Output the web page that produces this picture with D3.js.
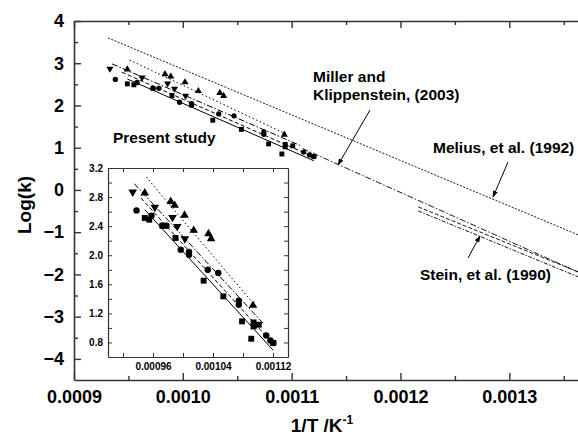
<!DOCTYPE html>
<html><head><meta charset="utf-8">
<script src="https://cdn.jsdelivr.net/npm/d3@7"></script>
<style>body{margin:0;background:#fff}svg{display:block}text{font-family:"Liberation Sans",Arial,sans-serif;font-weight:bold}</style>
</head><body>
<svg id="c" width="578" height="439"></svg>
<script>
// ---- data ----
const upTri = [[0.000949,2.856],[0.0009836,2.74],[0.0009889,2.686],[0.001002,2.549],[0.0010143,2.342],[0.001034,2.296],[0.0010375,2.227],[0.0010933,1.31]];
const downTri = [[0.000933,2.87],[0.0009625,2.659],[0.000986,2.521],[0.0009924,2.397],[0.0010025,2.227]];
const circles = [[0.000938,2.617],[0.000958,2.544],[0.0009726,2.406],[0.000978,2.406],[0.000997,2.076],[0.001008,2.044],[0.001008,2.007],[0.001033,1.80],[0.001047,1.755],[0.0010744,1.374],[0.0010744,1.319],[0.001111,0.897],[0.0011165,0.828],[0.0011204,0.792]];
const squares = [[0.000949,2.512],[0.000955,2.489],[0.0009726,2.406],[0.00099,2.237],[0.0010275,1.65],[0.0010538,1.434],[0.0010788,1.09],[0.001091,0.851],[0.0010941,1.076],[0.0010941,1.021],[0.001101,1.044],[0.0011204,0.792]];
const fitUp = [[0.000951,3.076],[0.0010933,1.342]];
const fitDown = [[0.000935,2.984],[0.0011086,1.044]];
const fitCircle = [[0.000944,2.787],[0.0011152,0.838]];
const fitSquare = [[0.000949,2.627],[0.0011204,0.691]];
const miller = [[0.00111,0.981],[0.00137,-2.023]];
const melius = [[0.0009313,3.598],[0.00137,-1.137]];
const steinA = [[0.0012163,-0.402],[0.00137,-2.01]];
const steinB = [[0.0012163,-0.497],[0.00137,-2.129]];
const xMajor = [0.0009,0.0010,0.0011,0.0012,0.0013];
const yMajor = [-4,-3,-2,-1,0,1,2,3,4];
const insetXMajor = [0.00096,0.00104,0.00112];
const insetYMajor = [0.8,1.2,1.6,2.0,2.4,2.8,3.2];

const svg = d3.select("#c");
const L=74, R=585.5, T=21, B=380;
const x = d3.scaleLinear().domain([0.0009,0.00137]).range([L,R]);
const y = d3.scaleLinear().domain([-4.5,4]).range([B,T]);
const axisCol = "#333";

svg.append("defs").append("clipPath").attr("id","clipMain").append("rect").attr("x",L).attr("y",T).attr("width",R-L).attr("height",B-T);
svg.select("defs").append("marker").attr("id","arr").attr("viewBox","0 0 10 10").attr("refX",9).attr("refY",5)
  .attr("markerWidth",7).attr("markerHeight",7).attr("orient","auto")
  .append("path").attr("d","M0,1.5 L10,5 L0,8.5 Z").attr("fill","#000");

const main = svg.append("g").attr("clip-path","url(#clipMain)");
const line = (xs,ys)=>d3.line().x(d=>xs(d[0])).y(d=>ys(d[1]));

function drawSet(g, xs, ys, sc){
  const l = line(xs,ys);
  g.append("path").attr("d",l(fitUp)).attr("stroke","#000").attr("stroke-width",1).attr("fill","none").attr("stroke-dasharray","1.5,2.5");
  g.append("path").attr("d",l(fitDown)).attr("stroke","#000").attr("stroke-width",1).attr("fill","none").attr("stroke-dasharray","6,2,1.5,2");
  g.append("path").attr("d",l(fitCircle)).attr("stroke","#000").attr("stroke-width",1).attr("fill","none").attr("stroke-dasharray","4,2.5");
  g.append("path").attr("d",l(fitSquare)).attr("stroke","#000").attr("stroke-width",1).attr("fill","none");
  const sym = (type,size)=>d3.symbol().type(type).size(size*sc)();
  g.selectAll(null).data(squares).enter().append("path").attr("d",sym(d3.symbolSquare,24))
    .attr("transform",d=>`translate(${xs(d[0])},${ys(d[1])})`);
  g.selectAll(null).data(circles).enter().append("path").attr("d",sym(d3.symbolCircle,22))
    .attr("transform",d=>`translate(${xs(d[0])},${ys(d[1])})`);
  g.selectAll(null).data(upTri).enter().append("path").attr("d",sym(d3.symbolTriangle,22))
    .attr("transform",d=>`translate(${xs(d[0])},${ys(d[1])})`);
  g.selectAll(null).data(downTri).enter().append("path").attr("d",sym(d3.symbolTriangle,22))
    .attr("transform",d=>`translate(${xs(d[0])},${ys(d[1])}) rotate(180)`);
}

// literature lines
const lm = line(x,y);
main.append("path").attr("d",lm(melius)).attr("stroke","#000").attr("stroke-width",0.9).attr("fill","none").attr("stroke-dasharray","2,1.5");
main.append("path").attr("d",lm(miller)).attr("stroke","#000").attr("stroke-width",0.9).attr("fill","none").attr("stroke-dasharray","6,2,1.5,2");
main.append("path").attr("d",lm(steinA)).attr("stroke","#000").attr("stroke-width",0.9).attr("fill","none").attr("stroke-dasharray","4,2");
main.append("path").attr("d",lm(steinB)).attr("stroke","#000").attr("stroke-width",0.9).attr("fill","none").attr("stroke-dasharray","4,1.5,1.5,1.5");
drawSet(main, x, y, 1);

// main axes
const xMinor = d3.range(0.00095,0.00137,0.0001);
function styleAxis(g){ g.select(".domain").attr("stroke",axisCol).attr("stroke-width",1.6); g.selectAll(".tick line").attr("stroke",axisCol).attr("stroke-width",1.4); g.selectAll("text").attr("fill","#000").style("font-family",'"Liberation Sans",Arial,sans-serif').style("font-weight","bold"); }
let g;
g = svg.append("g").attr("transform",`translate(0,${B})`).call(d3.axisBottom(x).tickValues(xMajor).tickSize(-7).tickSizeOuter(0).tickPadding(10).tickFormat(d3.format(".4f")));
g.selectAll("text").attr("font-size",18); styleAxis(g);
g = svg.append("g").attr("transform",`translate(0,${B})`).call(d3.axisBottom(x).tickValues(xMinor).tickSize(-4).tickSizeOuter(0).tickFormat(""));
styleAxis(g); g.select(".domain").remove();
g = svg.append("g").attr("transform",`translate(0,${T})`).call(d3.axisTop(x).tickValues(xMajor).tickSize(-7).tickSizeOuter(0).tickFormat(""));
styleAxis(g);
g = svg.append("g").attr("transform",`translate(0,${T})`).call(d3.axisTop(x).tickValues(xMinor).tickSize(-4).tickSizeOuter(0).tickFormat(""));
styleAxis(g); g.select(".domain").remove();
g = svg.append("g").attr("transform",`translate(${L},0)`).call(d3.axisLeft(y).tickValues(yMajor).tickSize(-7).tickSizeOuter(0).tickPadding(10).tickFormat(d3.format("d")));
g.selectAll("text").attr("font-size",18); styleAxis(g);
g = svg.append("g").attr("transform",`translate(${L},0)`).call(d3.axisLeft(y).tickValues(d3.range(-3.5,4,1)).tickSize(-4).tickSizeOuter(0).tickFormat(""));
styleAxis(g); g.select(".domain").remove();
g = svg.append("g").attr("transform",`translate(${R},0)`).call(d3.axisRight(y).tickValues(yMajor).tickSize(-7).tickSizeOuter(0).tickFormat(""));
styleAxis(g);

// axis titles
svg.append("text").attr("transform",`translate(31,205) rotate(-90)`).attr("text-anchor","middle").attr("font-size",19).text("Log(k)");
const xt = svg.append("text").attr("x",322).attr("y",432).attr("text-anchor","middle").attr("font-size",19);
xt.append("tspan").text("1/T /K");
xt.append("tspan").attr("dy",-8).attr("font-size",12).text("-1");

// annotations
const ann = svg.append("g").attr("font-size",15.5);
ann.append("text").attr("x",113).attr("y",143).text("Present study");
ann.append("text").attr("x",313).attr("y",82).text("Miller and");
ann.append("text").attr("x",313).attr("y",100).text("Klippenstein, (2003)");
ann.append("text").attr("x",433).attr("y",153).text("Melius, et al. (1992)");
ann.append("text").attr("x",420).attr("y",280).text("Stein, et al. (1990)");
const arrows = [[370,110,338,165],[508,162,493,197],[468,258,480,236]];
svg.selectAll(null).data(arrows).enter().append("line")
  .attr("x1",d=>d[0]).attr("y1",d=>d[1]).attr("x2",d=>d[2]).attr("y2",d=>d[3])
  .attr("stroke","#000").attr("stroke-width",1).attr("marker-end","url(#arr)");

// inset
const iL=108,iR=288,iT=168,iB=357;
const ix = d3.scaleLinear().domain([0.0009,0.00114]).range([iL,iR]);
const iy = d3.scaleLinear().domain([0.6,3.2]).range([iB,iT]);
svg.append("rect").attr("x",iL).attr("y",iT).attr("width",iR-iL).attr("height",iB-iT).attr("fill","#fff");
svg.select("defs").append("clipPath").attr("id","clipIn").append("rect").attr("x",iL).attr("y",iT).attr("width",iR-iL).attr("height",iB-iT);
const ins = svg.append("g").attr("clip-path","url(#clipIn)");
drawSet(ins, ix, iy, 1.45);
const ixTicks = d3.range(0.00092,0.001125,0.00004);
const iyTicks = d3.range(0.8,3.21,0.2);
function styleIn(g){ g.select(".domain").attr("stroke",axisCol).attr("stroke-width",1.2); g.selectAll(".tick line").attr("stroke",axisCol).attr("stroke-width",1); g.selectAll("text").attr("fill","#000").attr("font-size",10).style("font-family",'"Liberation Sans",Arial,sans-serif').style("font-weight","bold"); }
const fmtIX = v => insetXMajor.some(m=>Math.abs(m-v)<1e-9) ? d3.format(".5f")(v) : "";
const fmtIY = v => insetYMajor.some(m=>Math.abs(m-v)<1e-9) ? d3.format(".1f")(v) : "";
g = svg.append("g").attr("transform",`translate(0,${iB})`).call(d3.axisBottom(ix).tickValues(ixTicks).tickSize(-4).tickSizeOuter(0).tickPadding(6).tickFormat(fmtIX)); styleIn(g);
g = svg.append("g").attr("transform",`translate(0,${iT})`).call(d3.axisTop(ix).tickValues(ixTicks).tickSize(-4).tickSizeOuter(0).tickFormat("")); styleIn(g);
g = svg.append("g").attr("transform",`translate(${iL},0)`).call(d3.axisLeft(iy).tickValues(iyTicks).tickSize(-4).tickSizeOuter(0).tickPadding(5).tickFormat(fmtIY)); styleIn(g);
g = svg.append("g").attr("transform",`translate(${iR},0)`).call(d3.axisRight(iy).tickValues(iyTicks).tickSize(-4).tickSizeOuter(0).tickFormat("")); styleIn(g);
</script>
</body></html>
